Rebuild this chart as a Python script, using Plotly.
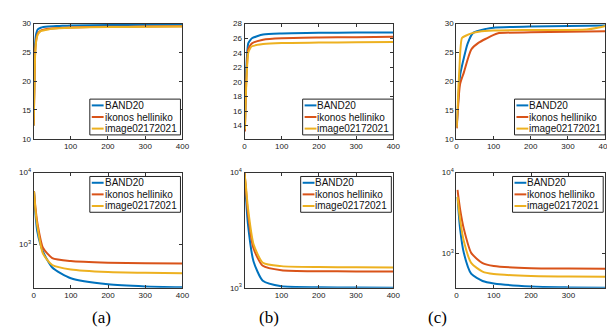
import plotly.graph_objects as go

# iteration points
it_a = [1, 3, 5, 8, 12, 20, 40, 70, 100, 200, 300, 400]
psnr_a_band20 = [12.3, 21.0, 26.5, 28.3, 29.0, 29.3, 29.5, 29.6, 29.7, 29.75, 29.8, 29.85]
psnr_a_ikonos = [12.3, 19.0, 25.0, 27.3, 28.3, 28.8, 29.1, 29.25, 29.35, 29.45, 29.5, 29.55]
psnr_a_image = [12.3, 18.5, 24.5, 27.0, 28.1, 28.7, 29.0, 29.2, 29.3, 29.4, 29.45, 29.5]

it_b = [1, 5, 10, 15, 20, 50, 100, 200, 300, 400]
psnr_b_band20 = [13.5, 22.0, 25.3, 25.7, 26.0, 26.5, 26.65, 26.75, 26.78, 26.8]
psnr_b_ikonos = [13.2, 20.5, 24.5, 25.0, 25.3, 25.8, 26.0, 26.1, 26.15, 26.2]
psnr_b_image = [13.5, 20.0, 24.0, 24.6, 24.9, 25.2, 25.35, 25.4, 25.45, 25.5]

it_c_band20 = [1, 10, 20, 30, 45, 80, 100, 200, 300, 400]
psnr_c_band20 = [12.0, 21.0, 24.0, 26.5, 28.4, 29.1, 29.3, 29.5, 29.6, 29.7]
it_c_ikonos = [1, 10, 20, 40, 60, 80, 110, 200, 300, 400]
psnr_c_ikonos = [11.8, 19.5, 21.5, 25.5, 26.7, 27.4, 28.3, 28.5, 28.6, 28.7]
it_c_image = [1, 8, 15, 25, 45, 60, 100, 200, 350, 380, 400]
psnr_c_image = [12.0, 22.0, 27.5, 27.9, 28.4, 28.6, 28.8, 28.9, 29.0, 29.3, 29.6]

it_low = [1, 5, 10, 25, 50, 100, 200, 300, 400]
loss_a_band20 = [5500, 2600, 1500, 800, 480, 340, 280, 262, 255]
loss_a_ikonos = [5500, 3200, 2000, 900, 650, 590, 560, 550, 545]
loss_a_image = [5500, 3000, 1800, 750, 520, 450, 415, 405, 400]

loss_b_band20 = [10000, 6000, 3600, 1700, 1150, 1030, 1010, 1003, 1000]
loss_b_ikonos = [10000, 7000, 4500, 2200, 1550, 1420, 1390, 1385, 1380]
loss_b_image = [10000, 7500, 5000, 2400, 1650, 1540, 1510, 1505, 1500]

it_c_low = [3, 10, 20, 40, 70, 100, 200, 300, 400]
loss_c_band20 = [5000, 2000, 1000, 550, 450, 420, 385, 375, 370]
loss_c_ikonos = [6100, 3500, 2000, 1000, 750, 690, 650, 645, 640]
loss_c_image = [5000, 2600, 1400, 750, 590, 550, 520, 513, 510]

names = ["BAND20", "ikonos helliniko", "image02172021"]
colors = ["#0072BD", "#D95319", "#EDB120"]
panel_labels = ["(a)", "(b)", "(c)"]

panels = [
    [(it_a, psnr_a_band20), (it_a, psnr_a_ikonos), (it_a, psnr_a_image)],
    [(it_b, psnr_b_band20), (it_b, psnr_b_ikonos), (it_b, psnr_b_image)],
    [(it_c_band20, psnr_c_band20), (it_c_ikonos, psnr_c_ikonos), (it_c_image, psnr_c_image)],
    [(it_low, loss_a_band20), (it_low, loss_a_ikonos), (it_low, loss_a_image)],
    [(it_low, loss_b_band20), (it_low, loss_b_ikonos), (it_low, loss_b_image)],
    [(it_c_low, loss_c_band20), (it_c_low, loss_c_ikonos), (it_c_low, loss_c_image)],
]

W, H = 615, 335
xdom = [[24 / W, 175 / W], [238 / W, 389 / W], [453 / W, 604 / W]]
ydom_top = [1 - 129 / H, 1 - 10 / H]
ydom_bot = [1 - 283 / H, 1 - 164 / H]

fig = go.Figure()
for k, series in enumerate(panels):
    sfx = "" if k == 0 else str(k + 1)
    for (xs, ys), nm, c in zip(series, names, colors):
        fig.add_trace(go.Scatter(
            x=xs, y=ys, name=nm, mode="lines", showlegend=False,
            line=dict(color=c, width=2, shape="spline", smoothing=0.6),
            xaxis="x" + sfx, yaxis="y" + sfx))

tick_font = dict(family="Liberation Sans, Arial", size=8, color="#222")
axis_style = dict(showline=True, linecolor="#333", linewidth=1, mirror="ticks", ticks="inside",
                  ticklen=3, tickcolor="#333", showgrid=False, zeroline=False, tickfont=tick_font)

x_ticks = [[100, 200, 300, 400], [0, 100, 200, 300, 400], [0, 100, 200, 300, 400],
           [0, 100, 200, 300, 400], [100, 200, 300, 400], [0, 100, 200, 300]]
x_ranges = [[1, 400], [0, 400], [0, 400], [0, 400], [1, 400], [0, 398]]
y_ranges = [[10, 30], [12.2, 28], [10, 30], [2.4, 4], [3, 4], [2.57, 4]]
y_ticks = [[10, 15, 20, 25, 30], [14, 16, 18, 20, 22, 24, 26, 28], [10, 15, 20, 25, 30],
           [1000, 10000], [1000, 10000], [1000, 10000]]

layout = {}
for i in range(6):
    sfx = "" if i == 0 else str(i + 1)
    col = i % 3
    top = i < 3
    layout["xaxis" + sfx] = dict(axis_style, domain=xdom[col], range=x_ranges[i], tickvals=x_ticks[i],
                                 anchor="y" + sfx)
    yax = dict(axis_style, domain=ydom_top if top else ydom_bot, range=y_ranges[i], tickvals=y_ticks[i],
               anchor="x" + sfx)
    if not top:
        yax.update(type="log", ticktext=["10<sup>3</sup>", "10<sup>4</sup>"])
    layout["yaxis" + sfx] = yax

fig.update_layout(**layout)
fig.update_layout(width=W, height=H, margin=dict(l=0, r=0, t=0, b=0),
                  plot_bgcolor="white", paper_bgcolor="white")

# compact MATLAB-style legend boxes (pixel positions of each box: left, top, width)
legend_boxes = [(81, 88, 92), (297, 88, 92), (512, 88, 92),
                (81, 168, 92), (295, 168, 92), (510, 168, 92)]
row_h = 12
for left, top, wid in legend_boxes:
    fig.add_shape(type="rect", xref="paper", yref="paper",
                  x0=left / W, x1=(left + wid) / W, y0=1 - top / H, y1=1 - (top + 3 * row_h + 1) / H,
                  line=dict(color="#222", width=1), fillcolor="white", layer="above")
    for j, (nm, c) in enumerate(zip(names, colors)):
        yc = 1 - (top + 6.5 + j * row_h) / H
        fig.add_shape(type="line", xref="paper", yref="paper",
                      x0=(left + 2) / W, x1=(left + 14) / W, y0=yc, y1=yc,
                      line=dict(color=c, width=2), layer="above")
        fig.add_annotation(text=nm, x=(left + 13) / W, y=yc, xref="paper", yref="paper",
                           xanchor="left", yanchor="middle", showarrow=False,
                           font=dict(family="Liberation Sans, Arial", size=10, color="#111"))

for lab, cx in zip(panel_labels, [81, 263, 446]):
    fig.add_annotation(text=lab, x=cx / W, y=1 - 326 / H, xref="paper", yref="paper",
                       showarrow=False, font=dict(family="Liberation Serif, Times New Roman", size=17, color="black"))

fig.write_html("out.html")
